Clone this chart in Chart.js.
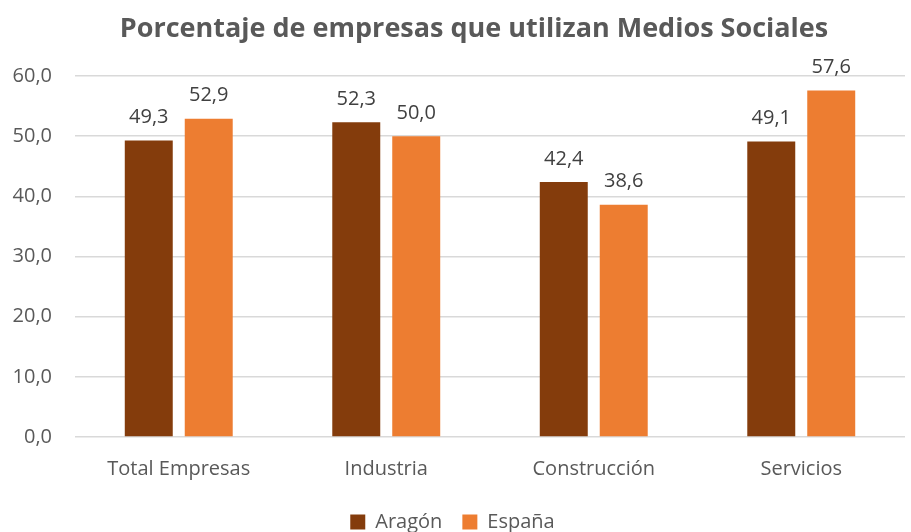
<!DOCTYPE html>
<html>
<head>
<meta charset="utf-8">
<script src="https://cdn.jsdelivr.net/npm/chart.js@4/dist/chart.umd.min.js"></script>
<style>
  html, body { margin: 0; padding: 0; background: #fff; }
  #wrap { width: 911px; height: 532px; }
</style>
</head>
<body>
<div id="wrap"><canvas id="chart" width="911" height="532"></canvas></div>
<script>
const title = 'Porcentaje de empresas que utilizan Medios Sociales'
const categories = ['Total Empresas', 'Industria', 'Construcción', 'Servicios']
const aragon = [49.3, 52.3, 42.4, 49.1]
const espana = [52.9, 50.0, 38.6, 57.6]
const yTicks = [0, 10, 20, 30, 40, 50, 60]

const fmt = (v) => v.toFixed(1).replace('.', ',')
const textColor = '#595959'
const family = '"Open Sans", sans-serif'

// value above each bar + the title (sits a bit right of the canvas centre, like the original)
const extras = {
  id: 'extras',
  afterDatasetsDraw (chart) {
    const ctx = chart.ctx
    ctx.save()
    ctx.font = '20px ' + family
    ctx.fillStyle = '#404040'
    ctx.textAlign = 'center'
    ctx.textBaseline = 'middle'
    chart.data.datasets.forEach((ds, i) => {
      chart.getDatasetMeta(i).data.forEach((bar, j) => {
        ctx.fillText(fmt(ds.data[j]), bar.x, bar.y - 23)
      })
    })
    ctx.font = 'bold 27px ' + family
    ctx.fillStyle = textColor
    ctx.fillText(title, (chart.chartArea.left + chart.chartArea.right) / 2 - 16, 29)
    ctx.restore()
  }
}

new Chart(document.getElementById('chart').getContext('2d'), {
  type: 'bar',
  data: {
    labels: categories,
    datasets: [
      { label: 'Aragón', data: aragon, backgroundColor: '#843C0C', borderWidth: 0 },
      { label: 'España', data: espana, backgroundColor: '#ED7D31', borderWidth: 0 }
    ]
  },
  options: {
    responsive: false,
    animation: false,
    categoryPercentage: 0.578,
    barPercentage: 0.8,
    layout: { padding: { left: 0, right: 6, top: 76, bottom: -10 } },
    scales: {
      x: {
        grid: { display: false },
        border: { display: false },
        ticks: { color: textColor, font: { size: 20, family }, padding: 12 },
        afterFit: (scale) => { scale.height = 55 }
      },
      y: {
        min: 0,
        max: 60,
        afterBuildTicks: (axis) => { axis.ticks = yTicks.map(v => ({ value: v })) },
        afterFit: (scale) => { scale.width = 75 },
        grid: { color: '#D9D9D9', lineWidth: 1.5, drawTicks: false },
        border: { display: false },
        ticks: {
          color: textColor,
          font: { size: 20, family },
          padding: 23,
          callback: (v) => fmt(v)
        }
      }
    },
    plugins: {
      title: { display: false },
      legend: {
        position: 'bottom',
        labels: {
          color: textColor,
          font: { size: 20, family },
          boxWidth: 15,
          boxHeight: 15,
          padding: 20
        }
      },
      tooltip: { enabled: false }
    }
  },
  plugins: [extras]
})
</script>
</body>
</html>
